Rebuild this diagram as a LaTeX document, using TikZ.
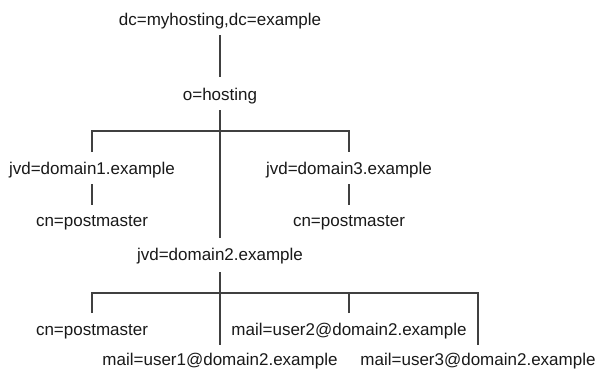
\documentclass[tikz,border=0pt]{standalone}
\usepackage{fontspec}
\setmainfont{Liberation Sans}
\begin{document}
\begin{tikzpicture}[x=1pt,y=-1pt,
  lbl/.style={anchor=base,inner sep=0pt,font=\fontsize{17}{20}\selectfont,text=black!90},
  conn/.style={draw=black!75,line width=1.1pt}]
\useasboundingbox[fill=white] (0,0) rectangle (596,370);
\node[lbl] (dc) at (220,25) {dc=myhosting,dc=example};
\node[lbl] (o) at (220,100) {o=hosting};
\node[lbl] (d1) at (92,174) {jvd=domain1.example};
\node[lbl] (d3) at (349,174) {jvd=domain3.example};
\node[lbl] (cn1) at (92,226) {cn=postmaster};
\node[lbl] (cn2) at (349,226) {cn=postmaster};
\node[lbl] (d2) at (220,260) {jvd=domain2.example};
\node[lbl] (cn3) at (92,335) {cn=postmaster};
\node[lbl] (m2) at (349,335) {mail=user2@domain2.example};
\node[lbl] (m1) at (220,365) {mail=user1@domain2.example};
\node[lbl] (m3) at (478,365) {mail=user3@domain2.example};
\coordinate (h1) at ([yshift=-31pt]o.base);
\coordinate (h2) at ([yshift=-33pt]d2.base);
\draw[conn] ([yshift=-10pt]dc.base) -- ([yshift=23pt]o.base);
\draw[conn] ([yshift=-10pt]o.base) -- ([yshift=22pt]d2.base);
\draw[conn] ([yshift=22pt]d1.base) |- (h1) -| ([yshift=22pt]d3.base);
\draw[conn] ([yshift=-10pt]d1.base) -- ([yshift=21pt]cn1.base);
\draw[conn] ([yshift=-10pt]d3.base) -- ([yshift=21pt]cn2.base);
\draw[conn] ([yshift=-12pt]d2.base) -- ([yshift=20pt]m1.base);
\draw[conn] ([yshift=22pt]cn3.base) |- (h2) -| ([yshift=20pt]m3.base);
\draw[conn] ([yshift=22pt]m2.base) -- (m2.base |- h2);
\end{tikzpicture}
\end{document}
